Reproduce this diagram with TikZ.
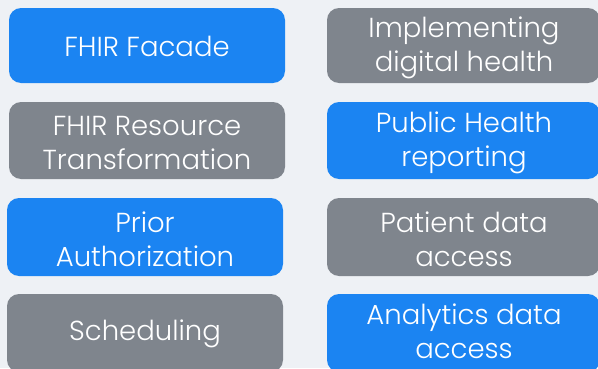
\documentclass[tikz,border=0pt]{standalone}
\usepackage{fontspec}
\setmainfont{Poppins}[UprightFont={* Light}]
\definecolor{bg}{HTML}{EEF1F5}
\definecolor{bluebox}{HTML}{1B84F2}
\definecolor{graybox}{HTML}{7F858D}
\begin{document}
\begin{tikzpicture}[x=1pt,y=1pt,
  card/.style={rounded corners=12pt, text=white, align=center,
    font=\fontsize{27.5}{34}\selectfont, inner sep=0pt},
  bluecard/.style={card, fill=bluebox},
  graycard/.style={card, fill=graybox}]
\useasboundingbox (0,0) rectangle (598,368);
\fill[bg] (0,0) rectangle (598,368);
\path[bluecard] (9,368-8) rectangle (285,368-83);
\node (b1) at (147,368-46) [card] {FHIR Facade};
\path[graycard] (327,368-8) rectangle (600,368-83);
\node (b2) at (464,368-48) [card] {Implementing\\digital health};
\path[graycard] (9,368-102) rectangle (285,368-179);
\node (b3) at (147,368-143) [card] {FHIR Resource\\Transformation};
\path[bluecard] (327,368-102) rectangle (600,368-179);
\node (b4) at (464,368-143) [card] {Public Health\\reporting};
\path[bluecard] (7,368-198) rectangle (283,368-276);
\node (b5) at (145,368-239) [card] {Prior\\Authorization};
\path[graycard] (327,368-198) rectangle (600,368-276);
\node (b6) at (464,368-239) [card] {Patient data\\access};
\path[graycard] (7,368-294) rectangle (283,368-372);
\node (b7) at (145,368-334) [card] {Scheduling};
\path[bluecard] (327,368-294) rectangle (600,368-372);
\node (b8) at (464,368-331) [card] {Analytics data\\access};
\end{tikzpicture}
\end{document}
